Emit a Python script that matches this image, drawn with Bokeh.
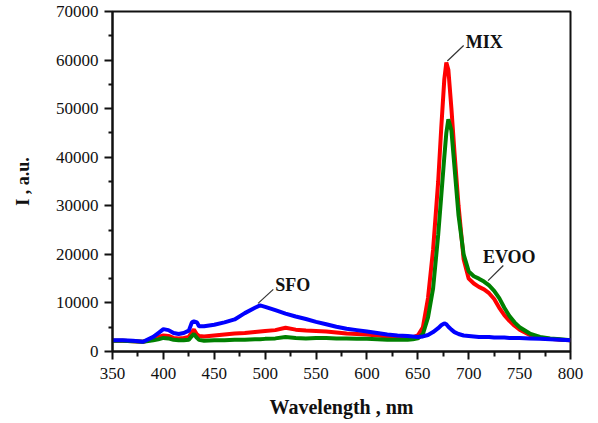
from bokeh.plotting import figure
from bokeh.models import Label, FixedTicker
from bokeh.embed import file_html
from bokeh.resources import INLINE

# ---- data ----
wavelength = [350, 360, 370, 380, 390, 395, 400, 405, 410, 415, 420, 425, 428, 430, 433, 435,
              440, 450, 460, 470, 480, 490, 495, 500, 510, 520, 530, 540, 550, 560, 570, 580,
              590, 600, 610, 620, 630, 640, 645, 650, 655, 660, 665, 670, 673, 676, 678, 680,
              683, 686, 690, 695, 700, 705, 710, 715, 720, 725, 730, 735, 740, 745, 750, 760,
              770, 780, 790, 800]

sfo = [2300, 2300, 2200, 2000, 3000, 3800, 4600, 4400, 3800, 3600, 3800, 4300, 6000, 6200, 6000, 5200,
       5200, 5500, 6000, 6600, 7900, 9000, 9500, 9200, 8500, 7800, 7200, 6700, 6100, 5600, 5100, 4700,
       4400, 4100, 3800, 3500, 3300, 3200, 3100, 3000, 3100, 3400, 4000, 4800, 5400, 5800, 5600, 5100,
       4500, 4000, 3600, 3300, 3200, 3100, 3000, 3000, 3000, 2900, 2900, 2900, 2800, 2800, 2800, 2700,
       2600, 2500, 2400, 2300]

mix = [2200, 2200, 2100, 2000, 2600, 3000, 3300, 3200, 2800, 2700, 2800, 3000, 4000, 4500, 3500, 3200,
       3100, 3300, 3500, 3700, 3800, 4000, 4100, 4200, 4400, 4900, 4500, 4300, 4200, 4100, 3900, 3700,
       3600, 3500, 3300, 3100, 2900, 2800, 2900, 3300, 5000, 11000, 21000, 35000, 46000, 56000, 59500, 58000,
       50000, 41000, 30000, 19000, 15000, 14000, 13300, 12800, 12000, 10800, 9000, 7500, 6300, 5300, 4500, 3400,
       2800, 2600, 2400, 2300]

evoo = [2200, 2200, 2100, 2000, 2300, 2500, 2800, 2700, 2400, 2300, 2300, 2400, 3200, 3600, 2800, 2400,
        2200, 2300, 2300, 2400, 2400, 2500, 2500, 2600, 2700, 3000, 2800, 2700, 2800, 2800, 2700, 2700,
        2600, 2600, 2500, 2400, 2400, 2400, 2500, 2700, 3600, 7000, 13000, 24000, 32000, 40000, 45000, 47800,
        45500, 38000, 28000, 20000, 16500, 15500, 15000, 14400, 13600, 12500, 11000, 9000, 7300, 6000, 5000, 3700,
        3000, 2700, 2500, 2300]

x_ticks = [350, 400, 450, 500, 550, 600, 650, 700, 750, 800]
y_ticks = [0, 10000, 20000, 30000, 40000, 50000, 60000, 70000]

# annotation anchors (data coords): label position, leader start, leader end
mix_label = (697, 63700, 679, 59800, 695, 63000)
evoo_label = (714, 19400, 719, 14600, 734, 17700)
sfo_label = (510, 13600, 493, 9900, 508, 12800)

FONT = "Liberation Serif"
TICK_FONT = "Times New Roman"

p = figure(width=590, height=415, x_range=(350, 800), y_range=(0, 70000),
           output_backend="svg", toolbar_location=None,
           frame_width=458, frame_height=340,
           min_border_left=112, min_border_top=11, min_border_right=20, min_border_bottom=64)

p.background_fill_color = "white"
p.border_fill_color = "white"
p.grid.visible = False
p.outline_line_color = "#111111"
p.outline_line_width = 2

p.line(wavelength, mix, line_color="#ff0000", line_width=4)
p.line(wavelength, evoo, line_color="#008000", line_width=4)
p.line(wavelength, sfo, line_color="#0000ff", line_width=4)

p.xaxis.ticker = FixedTicker(ticks=x_ticks, minor_ticks=[v + 25 for v in x_ticks[:-1]])
p.yaxis.ticker = FixedTicker(ticks=y_ticks, minor_ticks=[v + 5000 for v in y_ticks[:-1]])

p.axis.axis_line_width = 2
p.axis.axis_line_color = "#111111"
p.axis.major_tick_line_width = 2
p.axis.minor_tick_line_width = 2
p.axis.major_tick_line_color = "#111111"
p.axis.minor_tick_line_color = "#111111"
p.axis.major_tick_in = 0
p.axis.minor_tick_in = 0
p.axis.major_label_text_font = TICK_FONT
p.axis.major_label_text_font_style = "normal"
p.axis.major_label_text_font_size = "17px"
p.axis.major_label_text_color = "#111111"
p.axis.axis_label_text_font = FONT
p.axis.axis_label_text_font_style = "bold"
p.axis.axis_label_text_color = "#111111"

p.xaxis.major_tick_out = 8
p.xaxis.minor_tick_out = 5
p.yaxis.major_tick_out = 8
p.yaxis.minor_tick_out = 4
p.xaxis.major_label_standoff = 8
p.yaxis.major_label_standoff = 6
p.xaxis.axis_label = "Wavelength , nm"
p.xaxis.axis_label_text_font_size = "20px"
p.xaxis.axis_label_standoff = 14
p.yaxis.axis_label = "I , a.u."
p.yaxis.axis_label_text_font_size = "18px"
p.yaxis.axis_label_standoff = 20

for txt, (lx, ly, x0, y0, x1, y1) in (("MIX", mix_label), ("EVOO", evoo_label), ("SFO", sfo_label)):
    p.segment(x0=[x0], y0=[y0], x1=[x1], y1=[y1], line_color="#333333", line_width=1.2)
    p.add_layout(Label(x=lx, y=ly, text=txt, text_font=FONT, text_font_style="bold",
                       text_font_size="18px", text_color="#111111", text_baseline="middle",
                       text_align="left"))

open("out.html", "w").write(file_html(p, INLINE))
